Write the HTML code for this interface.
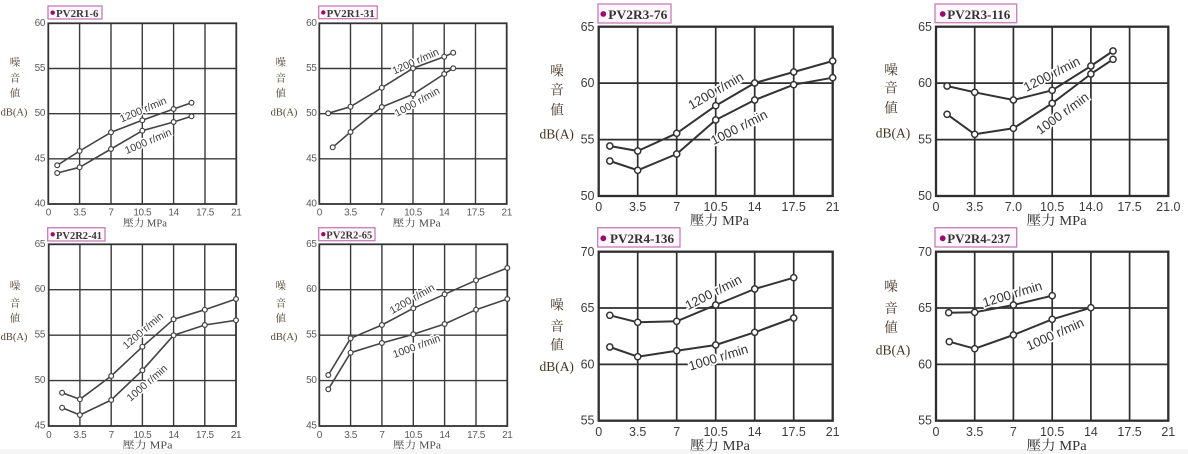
<!DOCTYPE html>
<html><head><meta charset="utf-8">
<style>
html,body{margin:0;padding:0;background:#fff;}
svg{display:block;}
.g{stroke:#3a3a3a;fill:none;stroke-width:1.4}
.f{stroke:#333;fill:none;stroke-width:1.8}
.G{stroke:#2e2e2e;fill:none;stroke-width:1.7}
.F{stroke:#2e2e2e;fill:none;stroke-width:2.3}
.d{stroke:#444;fill:none;stroke-width:1.6;stroke-linejoin:round}
.D{stroke:#333;fill:none;stroke-width:2;stroke-linejoin:round}
.m circle{fill:#fff;stroke:#444;stroke-width:1.2}
.M circle{fill:#fff;stroke:#333;stroke-width:1.5}
.l{font-family:"Liberation Sans",sans-serif;font-size:10.5px;fill:#3a3a3a;stroke:#fff;stroke-width:3;paint-order:stroke;text-anchor:middle;dominant-baseline:central}
.L{font-family:"Liberation Sans",sans-serif;font-size:13px;fill:#333;stroke:#fff;stroke-width:3.5;paint-order:stroke;text-anchor:middle;dominant-baseline:central}
.ty{font-family:"Liberation Sans",sans-serif;font-size:10px;fill:#5a5a5a;text-anchor:end;dominant-baseline:central;letter-spacing:-0.4px}
.tx{font-family:"Liberation Sans",sans-serif;font-size:10px;fill:#5a5a5a;text-anchor:middle;letter-spacing:-0.4px}
.TY{font-family:"Liberation Sans",sans-serif;font-size:12.5px;fill:#3c3c3c;text-anchor:end;dominant-baseline:central}
.TX{font-family:"Liberation Sans",sans-serif;font-size:12.5px;fill:#3c3c3c;text-anchor:middle}
.at{font-family:"Liberation Serif","Noto Serif CJK SC",serif;font-size:10px;fill:#4a4a4a;text-anchor:middle}
.AT{font-family:"Liberation Serif","Noto Serif CJK SC",serif;font-size:13.5px;fill:#333;text-anchor:middle}
.yt{font-family:"Liberation Serif","Noto Serif CJK SC",serif;font-size:10.5px;fill:#554433;text-anchor:middle;dominant-baseline:central}
.YT{font-family:"Liberation Serif","Noto Serif CJK SC",serif;font-size:13.5px;fill:#443322;text-anchor:middle;dominant-baseline:central}
.bx{fill:#fdf6fb;stroke:#c77dba;stroke-width:1.3}
.tt{font-family:"Liberation Serif",serif;font-weight:bold;font-size:10.8px;fill:#3a3a3a}
.TT{font-family:"Liberation Serif",serif;font-weight:bold;font-size:13px;fill:#333}
.dot{fill:#9b0a6e}
</style></head>
<body>
<svg width="1188" height="454" viewBox="0 0 1188 454" xmlns="http://www.w3.org/2000/svg">
<rect x="0" y="449" width="1188" height="5" fill="#f6f6f6"/>

<!-- ================= Chart 1 PV2R1-6 ================= -->
<path class="g" d="M79.6 23.3V204M111 23.3V204M142.3 23.3V204M173.6 23.3V204M205 23.3V204M48.3 158.8H236.3M48.3 113.7H236.3M48.3 68.5H236.3"/>
<rect class="f" x="48.3" y="23.3" width="188" height="180.7"/>
<text class="l" transform="rotate(-23 143.3 110)" x="143.3" y="110">1200 r/min</text>
<text class="l" transform="rotate(-23 148.3 141.7)" x="148.3" y="141.7">1000 r/min</text>
<polyline class="d" points="57.2,165.3 79.6,151 111,132.3 142.3,120.3 173.6,109 191.5,102.7"/>
<polyline class="d" points="57.2,173 79.6,167.3 111,149 142.3,130.7 173.6,122 191.5,116.3"/>
<g class="m">
<circle cx="57.2" cy="165.3" r="2.4"/><circle cx="79.6" cy="151" r="2.4"/><circle cx="111" cy="132.3" r="2.4"/><circle cx="142.3" cy="120.3" r="2.4"/><circle cx="173.6" cy="109" r="2.4"/><circle cx="191.5" cy="102.7" r="2.4"/>
<circle cx="57.2" cy="173" r="2.4"/><circle cx="79.6" cy="167.3" r="2.4"/><circle cx="111" cy="149" r="2.4"/><circle cx="142.3" cy="130.7" r="2.4"/><circle cx="173.6" cy="122" r="2.4"/><circle cx="191.5" cy="116.3" r="2.4"/>
</g>
<text class="ty" x="45" y="23.5">60</text><text class="ty" x="45" y="68.5">55</text><text class="ty" x="45" y="113.7">50</text><text class="ty" x="45" y="158.8">45</text><text class="ty" x="45" y="204">40</text>
<text class="tx" x="48.3" y="215.5">0</text><text class="tx" x="79.6" y="215.5">3.5</text><text class="tx" x="111" y="215.5">7</text><text class="tx" x="142.3" y="215.5">10.5</text><text class="tx" x="173.6" y="215.5">14</text><text class="tx" x="205" y="215.5">17.5</text><text class="tx" x="236.3" y="215.5">21</text>
<text class="at" x="145" y="226.5" textLength="44" lengthAdjust="spacingAndGlyphs">壓力 MPa</text>
<text class="yt" x="15" y="63">噪</text><text class="yt" x="15" y="79">音</text><text class="yt" x="15" y="94">値</text><text class="yt" x="14" y="113">dB(A)</text>
<rect class="bx" x="48" y="6" width="54" height="13"/>
<circle class="dot" cx="52.7" cy="12.7" r="2.2"/>
<text class="tt" x="56" y="17" textLength="42.5" lengthAdjust="spacingAndGlyphs">PV2R1-6</text>

<!-- ================= Chart 2 PV2R1-31 ================= -->
<path class="g" d="M350.5 23.3V204M381.8 23.3V204M413 23.3V204M444.2 23.3V204M475.5 23.3V204M319.3 158.8H506.7M319.3 113.7H506.7M319.3 68.5H506.7"/>
<rect class="f" x="319.3" y="23.3" width="187.4" height="180.7"/>
<text class="l" transform="rotate(-24 415.7 61.7)" x="415.7" y="61.7">1200 r/min</text>
<text class="l" transform="rotate(-29 417.3 102.3)" x="417.3" y="102.3">1000 r/min</text>
<polyline class="d" points="328.2,113.3 350.5,106.7 381.8,87.7 413,68.3 444.2,56.7 453.2,52.7"/>
<polyline class="d" points="332.7,147.3 350.5,132 381.8,107 413,94.3 444.2,74 453.2,68.3"/>
<g class="m">
<circle cx="328.2" cy="113.3" r="2.4"/><circle cx="350.5" cy="106.7" r="2.4"/><circle cx="381.8" cy="87.7" r="2.4"/><circle cx="413" cy="68.3" r="2.4"/><circle cx="444.2" cy="56.7" r="2.4"/><circle cx="453.2" cy="52.7" r="2.4"/>
<circle cx="332.7" cy="147.3" r="2.4"/><circle cx="350.5" cy="132" r="2.4"/><circle cx="381.8" cy="107" r="2.4"/><circle cx="413" cy="94.3" r="2.4"/><circle cx="444.2" cy="74" r="2.4"/><circle cx="453.2" cy="68.3" r="2.4"/>
</g>
<text class="ty" x="316.5" y="23.5">60</text><text class="ty" x="316.5" y="68.5">55</text><text class="ty" x="316.5" y="113.7">50</text><text class="ty" x="316.5" y="158.8">45</text><text class="ty" x="316.5" y="204">40</text>
<text class="tx" x="319.3" y="215.5">0</text><text class="tx" x="350.5" y="215.5">3.5</text><text class="tx" x="381.8" y="215.5">7</text><text class="tx" x="413" y="215.5">10.5</text><text class="tx" x="444.2" y="215.5">14</text><text class="tx" x="475.5" y="215.5">17.5</text><text class="tx" x="506.7" y="215.5">21</text>
<text class="at" x="416.7" y="226.5" textLength="48" lengthAdjust="spacingAndGlyphs">壓力 MPa</text>
<text class="yt" x="280.7" y="63">噪</text><text class="yt" x="280.7" y="79">音</text><text class="yt" x="280.7" y="94">値</text><text class="yt" x="284" y="113">dB(A)</text>
<rect class="bx" x="318.7" y="6" width="58.6" height="12.7"/>
<circle class="dot" cx="323.3" cy="12.5" r="2.2"/>
<text class="tt" x="326.7" y="17" textLength="48" lengthAdjust="spacingAndGlyphs">PV2R1-31</text>

<!-- ================= Chart 3 PV2R2-41 ================= -->
<path class="g" d="M79.9 244.3V426M111.2 244.3V426M142.4 244.3V426M173.6 244.3V426M204.8 244.3V426M48.7 380.6H236M48.7 335.2H236M48.7 289.7H236"/>
<rect class="f" x="48.7" y="244.3" width="187.3" height="181.7"/>
<text class="l" transform="rotate(-41 143.3 331)" x="143.3" y="331">1200 r/min</text>
<text class="l" transform="rotate(-41 147.3 383.3)" x="147.3" y="383.3">1000 r/min</text>
<polyline class="d" points="62.1,392.7 79.9,399.3 111.2,376 142.4,346.7 173.6,319.3 204.8,309.7 236,299"/>
<polyline class="d" points="62.1,407.7 79.9,415 111.2,400 142.4,370.3 173.6,335.3 204.8,325 236,320.3"/>
<g class="m">
<circle cx="62.1" cy="392.7" r="2.4"/><circle cx="79.9" cy="399.3" r="2.4"/><circle cx="111.2" cy="376" r="2.4"/><circle cx="142.4" cy="346.7" r="2.4"/><circle cx="173.6" cy="319.3" r="2.4"/><circle cx="204.8" cy="309.7" r="2.4"/><circle cx="236" cy="299" r="2.4"/>
<circle cx="62.1" cy="407.7" r="2.4"/><circle cx="79.9" cy="415" r="2.4"/><circle cx="111.2" cy="400" r="2.4"/><circle cx="142.4" cy="370.3" r="2.4"/><circle cx="173.6" cy="335.3" r="2.4"/><circle cx="204.8" cy="325" r="2.4"/><circle cx="236" cy="320.3" r="2.4"/>
</g>
<text class="ty" x="45" y="244.5">65</text><text class="ty" x="45" y="289.7">60</text><text class="ty" x="45" y="335.2">55</text><text class="ty" x="45" y="380.6">50</text><text class="ty" x="45" y="426">45</text>
<text class="tx" x="48.7" y="438">0</text><text class="tx" x="79.9" y="438">3.5</text><text class="tx" x="111.2" y="438">7</text><text class="tx" x="142.4" y="438">10.5</text><text class="tx" x="173.6" y="438">14</text><text class="tx" x="204.8" y="438">17.5</text><text class="tx" x="236" y="438">21</text>
<text class="at" x="147.5" y="448.5" textLength="50" lengthAdjust="spacingAndGlyphs">壓力 MPa</text>
<text class="yt" x="15" y="286.7">噪</text><text class="yt" x="15" y="304">音</text><text class="yt" x="15" y="319">値</text><text class="yt" x="14" y="337.7">dB(A)</text>
<rect class="bx" x="47.7" y="227.7" width="57.3" height="13.3"/>
<circle class="dot" cx="52.7" cy="234.3" r="2.2"/>
<text class="tt" x="56" y="238.8" textLength="46" lengthAdjust="spacingAndGlyphs">PV2R2-41</text>

<!-- ================= Chart 4 PV2R2-65 ================= -->
<path class="g" d="M350.6 244.3V426M381.9 244.3V426M413.3 244.3V426M444.6 244.3V426M476 244.3V426M319.3 380.6H507.3M319.3 335.2H507.3M319.3 289.7H507.3"/>
<rect class="f" x="319.3" y="244.3" width="188" height="181.7"/>
<text class="l" transform="rotate(-30 412.3 299.3)" x="412.3" y="299.3">1200 r/min</text>
<text class="l" transform="rotate(-20 416.7 346.7)" x="416.7" y="346.7">1000 r/min</text>
<polyline class="d" points="328.3,375 350.6,338.3 381.9,325 413.3,308.3 444.6,294.3 476,280.3 507.3,268"/>
<polyline class="d" points="328.3,389.3 350.6,352.7 381.9,343 413.3,334.3 444.6,324 476,309.7 507.3,299"/>
<g class="m">
<circle cx="328.3" cy="375" r="2.4"/><circle cx="350.6" cy="338.3" r="2.4"/><circle cx="381.9" cy="325" r="2.4"/><circle cx="413.3" cy="308.3" r="2.4"/><circle cx="444.6" cy="294.3" r="2.4"/><circle cx="476" cy="280.3" r="2.4"/><circle cx="507.3" cy="268" r="2.4"/>
<circle cx="328.3" cy="389.3" r="2.4"/><circle cx="350.6" cy="352.7" r="2.4"/><circle cx="381.9" cy="343" r="2.4"/><circle cx="413.3" cy="334.3" r="2.4"/><circle cx="444.6" cy="324" r="2.4"/><circle cx="476" cy="309.7" r="2.4"/><circle cx="507.3" cy="299" r="2.4"/>
</g>
<text class="ty" x="316.5" y="244.5">65</text><text class="ty" x="316.5" y="289.7">60</text><text class="ty" x="316.5" y="335.2">55</text><text class="ty" x="316.5" y="380.6">50</text><text class="ty" x="316.5" y="426">45</text>
<text class="tx" x="319.3" y="438">0</text><text class="tx" x="350.6" y="438">3.5</text><text class="tx" x="381.9" y="438">7</text><text class="tx" x="413.3" y="438">10.5</text><text class="tx" x="444.6" y="438">14</text><text class="tx" x="476" y="438">17.5</text><text class="tx" x="507.3" y="438">21</text>
<text class="at" x="417" y="448.5" textLength="48" lengthAdjust="spacingAndGlyphs">壓力 MPa</text>
<text class="yt" x="280.7" y="286.7">噪</text><text class="yt" x="280.7" y="304">音</text><text class="yt" x="280.7" y="319">値</text><text class="yt" x="284" y="337.7">dB(A)</text>
<rect class="bx" x="318.7" y="227.7" width="56.3" height="13"/>
<circle class="dot" cx="323.3" cy="234.2" r="2.2"/>
<text class="tt" x="326.3" y="238.6" textLength="46" lengthAdjust="spacingAndGlyphs">PV2R2-65</text>

<!-- ================= Chart 5 PV2R3-76 ================= -->
<path class="G" d="M637.7 26.7V196M676.7 26.7V196M715.7 26.7V196M754.7 26.7V196M793.7 26.7V196M598.7 139.6H832.7M598.7 83.1H832.7"/>
<rect class="F" x="598.7" y="26.7" width="234" height="169.3"/>
<text class="L" transform="rotate(-30 715.7 90.7)" x="715.7" y="90.7">1200 r/min</text>
<text class="L" transform="rotate(-27 739 127.3)" x="739" y="127.3">1000 r/min</text>
<polyline class="D" points="609.8,146 637.7,151 676.7,133.3 715.7,105.7 754.7,83 793.7,72 832.7,61"/>
<polyline class="D" points="609.8,161 637.7,170.3 676.7,154 715.7,120 754.7,100 793.7,84.7 832.7,77.7"/>
<g class="M">
<circle cx="609.8" cy="146" r="3.1"/><circle cx="637.7" cy="151" r="3.1"/><circle cx="676.7" cy="133.3" r="3.1"/><circle cx="715.7" cy="105.7" r="3.1"/><circle cx="754.7" cy="83" r="3.1"/><circle cx="793.7" cy="72" r="3.1"/><circle cx="832.7" cy="61" r="3.1"/>
<circle cx="609.8" cy="161" r="3.1"/><circle cx="637.7" cy="170.3" r="3.1"/><circle cx="676.7" cy="154" r="3.1"/><circle cx="715.7" cy="120" r="3.1"/><circle cx="754.7" cy="100" r="3.1"/><circle cx="793.7" cy="84.7" r="3.1"/><circle cx="832.7" cy="77.7" r="3.1"/>
</g>
<text class="TY" x="594.5" y="27">65</text><text class="TY" x="594.5" y="83.1">60</text><text class="TY" x="594.5" y="139.6">55</text><text class="TY" x="594.5" y="196">50</text>
<text class="TX" x="598.7" y="211">0</text><text class="TX" x="637.7" y="211">3.5</text><text class="TX" x="676.7" y="211">7</text><text class="TX" x="715.7" y="211">10.5</text><text class="TX" x="754.7" y="211">14</text><text class="TX" x="793.7" y="211">17.5</text><text class="TX" x="832.7" y="211">21</text>
<text class="AT" x="719.5" y="225" textLength="59" lengthAdjust="spacingAndGlyphs">壓力 MPa</text>
<text class="YT" x="557" y="71">噪</text><text class="YT" x="557" y="90">音</text><text class="YT" x="557" y="110">値</text><text class="YT" x="556.7" y="134">dB(A)</text>
<rect class="bx" x="598" y="4" width="73" height="19"/>
<circle class="dot" cx="603.3" cy="14" r="2.9"/>
<text class="TT" x="608.3" y="18.8" textLength="59" lengthAdjust="spacingAndGlyphs">PV2R3-76</text>

<!-- ================= Chart 6 PV2R3-116 ================= -->
<path class="G" d="M974.7 26.7V196M1013.4 26.7V196M1052.2 26.7V196M1090.9 26.7V196M1129.6 26.7V196M936 139.6H1168.3M936 83.1H1168.3"/>
<rect class="F" x="936" y="26.7" width="232.3" height="169.3"/>
<text class="L" transform="rotate(-27 1051.7 74)" x="1051.7" y="74">1200 r/min</text>
<text class="L" transform="rotate(-36 1062.3 113.3)" x="1062.3" y="113.3">1000 r/min</text>
<polyline class="D" points="947.1,86 974.7,92.3 1013.4,100 1052.2,90.3 1090.9,66 1113,51"/>
<polyline class="D" points="947.1,114.3 974.7,134.3 1013.4,128.3 1052.2,103.3 1090.9,74 1113,59.3"/>
<g class="M">
<circle cx="947.1" cy="86" r="3.1"/><circle cx="974.7" cy="92.3" r="3.1"/><circle cx="1013.4" cy="100" r="3.1"/><circle cx="1052.2" cy="90.3" r="3.1"/><circle cx="1090.9" cy="66" r="3.1"/><circle cx="1113" cy="51" r="3.1"/>
<circle cx="947.1" cy="114.3" r="3.1"/><circle cx="974.7" cy="134.3" r="3.1"/><circle cx="1013.4" cy="128.3" r="3.1"/><circle cx="1052.2" cy="103.3" r="3.1"/><circle cx="1090.9" cy="74" r="3.1"/><circle cx="1113" cy="59.3" r="3.1"/>
</g>
<text class="TY" x="932" y="27">65</text><text class="TY" x="932" y="83.1">60</text><text class="TY" x="932" y="139.6">55</text><text class="TY" x="932" y="196">50</text>
<text class="TX" x="936" y="211">0</text><text class="TX" x="974.7" y="211">3.5</text><text class="TX" x="1013.4" y="211">7.0</text><text class="TX" x="1052.2" y="211">10.5</text><text class="TX" x="1090.9" y="211">14.0</text><text class="TX" x="1129.6" y="211">17.5</text><text class="TX" x="1168.3" y="211">21.0</text>
<text class="AT" x="1056.7" y="225" textLength="60" lengthAdjust="spacingAndGlyphs">壓力 MPa</text>
<text class="YT" x="891" y="70">噪</text><text class="YT" x="891" y="88">音</text><text class="YT" x="891" y="108">値</text><text class="YT" x="893" y="133">dB(A)</text>
<rect class="bx" x="935" y="4" width="81.7" height="18.7"/>
<circle class="dot" cx="942.7" cy="14" r="2.9"/>
<text class="TT" x="947.3" y="18.8" textLength="63" lengthAdjust="spacingAndGlyphs">PV2R3-116</text>

<!-- ================= Chart 7 PV2R4-136 ================= -->
<path class="G" d="M637.7 251.7V420.7M676.7 251.7V420.7M715.7 251.7V420.7M754.7 251.7V420.7M793.7 251.7V420.7M598.7 364.4H832.7M598.7 308H832.7"/>
<rect class="F" x="598.7" y="251.7" width="234" height="169"/>
<text class="L" transform="rotate(-27 713.3 292.3)" x="713.3" y="292.3">1200 r/min</text>
<text class="L" transform="rotate(-17 718.3 357.3)" x="718.3" y="357.3">1000 r/min</text>
<polyline class="D" points="609.8,315.3 637.7,322.3 676.7,321.3 715.7,305 754.7,289 793.7,277.7"/>
<polyline class="D" points="609.8,347 637.7,356.7 676.7,350.7 715.7,345 754.7,332.3 793.7,318"/>
<g class="M">
<circle cx="609.8" cy="315.3" r="3.1"/><circle cx="637.7" cy="322.3" r="3.1"/><circle cx="676.7" cy="321.3" r="3.1"/><circle cx="715.7" cy="305" r="3.1"/><circle cx="754.7" cy="289" r="3.1"/><circle cx="793.7" cy="277.7" r="3.1"/>
<circle cx="609.8" cy="347" r="3.1"/><circle cx="637.7" cy="356.7" r="3.1"/><circle cx="676.7" cy="350.7" r="3.1"/><circle cx="715.7" cy="345" r="3.1"/><circle cx="754.7" cy="332.3" r="3.1"/><circle cx="793.7" cy="318" r="3.1"/>
</g>
<text class="TY" x="594.5" y="252">70</text><text class="TY" x="594.5" y="308">65</text><text class="TY" x="594.5" y="364.4">60</text><text class="TY" x="594.5" y="420.7">55</text>
<text class="TX" x="598.7" y="436">0</text><text class="TX" x="637.7" y="436">3.5</text><text class="TX" x="676.7" y="436">7</text><text class="TX" x="715.7" y="436">10.5</text><text class="TX" x="754.7" y="436">14</text><text class="TX" x="793.7" y="436">17.5</text><text class="TX" x="832.7" y="436">21</text>
<text class="AT" x="720" y="450" textLength="60" lengthAdjust="spacingAndGlyphs">壓力 MPa</text>
<text class="YT" x="557" y="305">噪</text><text class="YT" x="557" y="326.7">音</text><text class="YT" x="557" y="345">値</text><text class="YT" x="556.7" y="366.7">dB(A)</text>
<rect class="bx" x="597.7" y="227.7" width="82.3" height="19.3"/>
<circle class="dot" cx="603.3" cy="238.3" r="2.9"/>
<text class="TT" x="610" y="242.8" textLength="64" lengthAdjust="spacingAndGlyphs">PV2R4-136</text>

<!-- ================= Chart 8 PV2R4-237 ================= -->
<path class="G" d="M974.7 251.7V420.7M1013.4 251.7V420.7M1052.2 251.7V420.7M1090.9 251.7V420.7M1129.6 251.7V420.7M936 364.4H1168.3M936 308H1168.3"/>
<rect class="F" x="936" y="251.7" width="232.3" height="169"/>
<text class="L" transform="rotate(-17 1012.3 294)" x="1012.3" y="294">1200 r/min</text>
<text class="L" transform="rotate(-24 1055 334)" x="1055" y="334">1000 r/min</text>
<polyline class="D" points="948.7,312.7 974.7,312.3 1013.4,305 1052.2,295.7"/>
<polyline class="D" points="949.3,341.7 974.7,348.7 1013.4,335 1052.2,319.3 1090.9,307.7"/>
<g class="M">
<circle cx="948.7" cy="312.7" r="3.1"/><circle cx="974.7" cy="312.3" r="3.1"/><circle cx="1013.4" cy="305" r="3.1"/><circle cx="1052.2" cy="295.7" r="3.1"/>
<circle cx="949.3" cy="341.7" r="3.1"/><circle cx="974.7" cy="348.7" r="3.1"/><circle cx="1013.4" cy="335" r="3.1"/><circle cx="1052.2" cy="319.3" r="3.1"/><circle cx="1090.9" cy="307.7" r="3.1"/>
</g>
<text class="TY" x="932" y="252">70</text><text class="TY" x="932" y="308">65</text><text class="TY" x="932" y="364.4">60</text><text class="TY" x="932" y="420.7">55</text>
<text class="TX" x="936" y="436">0</text><text class="TX" x="974.7" y="436">3.5</text><text class="TX" x="1013.4" y="436">7</text><text class="TX" x="1052.2" y="436">10.5</text><text class="TX" x="1090.9" y="436">14</text><text class="TX" x="1129.6" y="436">17.5</text><text class="TX" x="1168.3" y="436">21</text>
<text class="AT" x="1056.7" y="450" textLength="60" lengthAdjust="spacingAndGlyphs">壓力 MPa</text>
<text class="YT" x="891" y="286.7">噪</text><text class="YT" x="891" y="308.3">音</text><text class="YT" x="891" y="327.7">値</text><text class="YT" x="893" y="350">dB(A)</text>
<rect class="bx" x="935" y="227.7" width="81.7" height="19.3"/>
<circle class="dot" cx="942.7" cy="238.3" r="2.9"/>
<text class="TT" x="947.3" y="242.8" textLength="63" lengthAdjust="spacingAndGlyphs">PV2R4-237</text>
</svg>
</body></html>
